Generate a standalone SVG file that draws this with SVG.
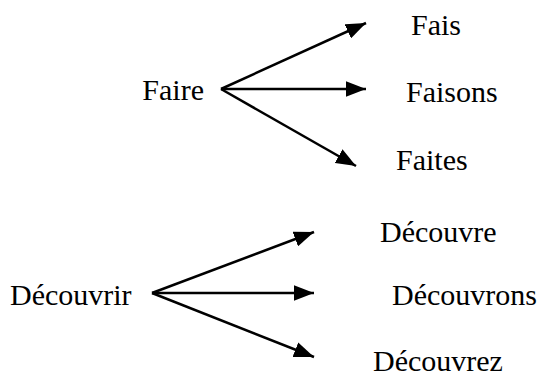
<svg xmlns="http://www.w3.org/2000/svg" width="544" height="382" viewBox="0 0 544 382">
<defs>
<style>
text{font-family:'Liberation Serif','Times New Roman','DejaVu Serif',serif;font-size:30px;fill:#000}
.c line{stroke:#000;stroke-width:2.5;marker-end:url(#ah)}
</style>
<marker id="ah" markerUnits="userSpaceOnUse" markerWidth="20" markerHeight="16" refX="18" refY="7" orient="auto" viewBox="0 0 18 14">
<path d="M0,0 L18,7 L0,14 Z" fill="#000"/>
</marker>
</defs>
<rect width="544" height="382" fill="#fff"/>
<g id="n-faire"><text x="204" y="100" text-anchor="end">Faire</text></g>
<g id="n-fais"><text x="411" y="35">Fais</text></g>
<g id="n-faisons"><text x="406" y="102">Faisons</text></g>
<g id="n-faites"><text x="396" y="170">Faites</text></g>
<g id="n-decouvrir"><text x="10" y="305">Découvrir</text></g>
<g id="n-decouvre"><text x="380" y="242">Découvre</text></g>
<g id="n-decouvrons"><text x="392" y="305">Découvrons</text></g>
<g id="n-decouvrez"><text x="373" y="371">Découvrez</text></g>
<g class="c" id="connectors">
<line x1="221" y1="89" x2="366" y2="23"/>
<line x1="221" y1="89" x2="366" y2="89"/>
<line x1="221" y1="89" x2="356" y2="166"/>
<line x1="152" y1="293" x2="314" y2="232"/>
<line x1="152" y1="293" x2="314" y2="293"/>
<line x1="152" y1="293" x2="314" y2="357"/>
</g>
</svg>
